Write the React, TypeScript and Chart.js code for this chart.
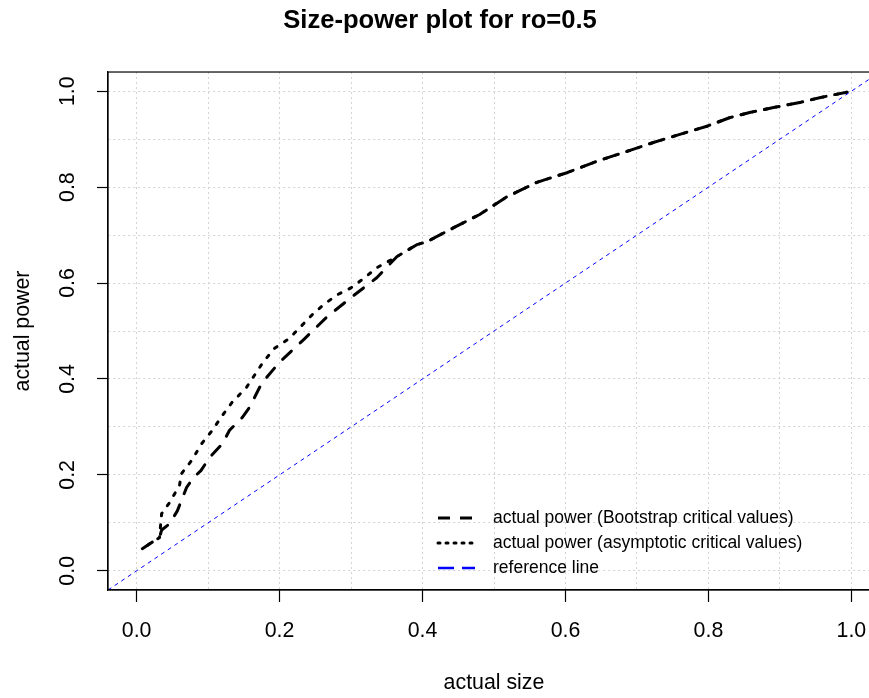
import React, { useEffect, useRef } from "react";
import { Chart, registerables } from "chart.js";

Chart.register(...registerables);

// ---- data ----
const titleText = "Size-power plot for ro=0.5";
const xAxisTitle = "actual size";
const yAxisTitle = "actual power";

const sizeBootstrap = [
  0.008, 0.02, 0.032, 0.035, 0.046, 0.057, 0.07, 0.08, 0.09, 0.102, 0.12, 0.13,
  0.148, 0.158, 0.175, 0.2, 0.233, 0.266, 0.301, 0.336, 0.364, 0.392, 0.406,
  0.443, 0.48, 0.518, 0.56, 0.602, 0.644, 0.681, 0.723, 0.76, 0.798, 0.83,
  0.859, 0.891, 0.929, 0.957, 0.994,
];
const powerBootstrap = [
  0.046, 0.058, 0.069, 0.085, 0.098, 0.125, 0.174, 0.195, 0.209, 0.236, 0.265,
  0.293, 0.32, 0.341, 0.391, 0.435, 0.481, 0.529, 0.571, 0.611, 0.655, 0.68,
  0.686, 0.715, 0.743, 0.78, 0.81, 0.83, 0.854, 0.872, 0.893, 0.91, 0.927,
  0.945, 0.956, 0.966, 0.977, 0.987, 0.998,
];

const sizeAsymptotic = [
  0.008, 0.02, 0.032, 0.035, 0.046, 0.06, 0.063, 0.077, 0.091, 0.106, 0.12,
  0.134, 0.154, 0.177, 0.193, 0.214, 0.245, 0.261, 0.28, 0.3, 0.319, 0.336,
  0.364, 0.392, 0.406, 0.443, 0.48, 0.518, 0.56, 0.602, 0.644, 0.681, 0.723,
  0.76, 0.798, 0.83, 0.859, 0.891, 0.929, 0.957, 0.994,
];
const powerAsymptotic = [
  0.046, 0.058, 0.069, 0.119, 0.142, 0.178, 0.203, 0.23, 0.265, 0.293, 0.324,
  0.352, 0.383, 0.435, 0.464, 0.485, 0.533, 0.554, 0.575, 0.59, 0.611, 0.632,
  0.655, 0.68, 0.686, 0.715, 0.743, 0.78, 0.81, 0.83, 0.854, 0.872, 0.893,
  0.91, 0.927, 0.945, 0.956, 0.966, 0.977, 0.987, 0.998,
];

// reference line y = x across the whole plotting range
const referenceSize = [-0.04, 1.04];
const referencePower = [-0.04, 1.04];

const axisMin = -0.04;
const axisMax = 1.04;
const tickLabels = [0, 0.2, 0.4, 0.6, 0.8, 1.0];

const seriesLabels = [
  "actual power (Bootstrap critical values)",
  "actual power (asymptotic critical values)",
  "reference line",
];

// ---- styling ----
const FONT = '"Liberation Sans", Arial, Helvetica, sans-serif';
const BASE = 21.33;
const DASH_BOOT = [12, 12];
const DASH_ASYM = [3, 9];
const isMajor = (v: number) => Math.round(v * 10) % 2 === 0;

const toPoints = (xs: number[], ys: number[]) =>
  xs.map((x, i) => ({ x, y: ys[i] }));

// index where the asymptotic curve joins the bootstrap curve (identical tails)
function mergeIndices() {
  let ib = sizeBootstrap.length - 1;
  let ia = sizeAsymptotic.length - 1;
  while (
    ib > 0 &&
    ia > 0 &&
    sizeBootstrap[ib - 1] === sizeAsymptotic[ia - 1] &&
    powerBootstrap[ib - 1] === powerAsymptotic[ia - 1]
  ) {
    ib--;
    ia--;
  }
  return { ib, ia };
}

function pathLength(chart: any, xs: number[], ys: number[], n: number) {
  const sx = chart.scales.x;
  const sy = chart.scales.y;
  let s = 0;
  for (let i = 1; i <= n; i++) {
    const dx = sx.getPixelForValue(xs[i]) - sx.getPixelForValue(xs[i - 1]);
    const dy = sy.getPixelForValue(ys[i]) - sy.getPixelForValue(ys[i - 1]);
    s += Math.hypot(dx, dy);
  }
  return s;
}

// align the dots of the asymptotic curve with the dashes of the bootstrap curve
function asymDashOffset(ctx: any) {
  const chart = ctx.chart;
  if (!chart || !chart.scales || !chart.scales.x || !chart.scales.y) return 0;
  const { ib, ia } = mergeIndices();
  const lb = pathLength(chart, sizeBootstrap, powerBootstrap, ib);
  const la = pathLength(chart, sizeAsymptotic, powerAsymptotic, ia);
  const p = DASH_ASYM[0] + DASH_ASYM[1];
  return (((lb - la) % p) + p) % p;
}

const legendStyles = [
  { color: "#000000", width: 3, dash: [12, 10], cap: "butt" },
  { color: "#000000", width: 3, dash: [2, 6], cap: "round" },
  { color: "#0000ff", width: 2.5, dash: [16, 8], cap: "butt" },
];

const framePlugin = {
  id: "frame",
  afterDatasetsDraw(chart: any) {
    const { ctx, chartArea } = chart;
    ctx.save();
    ctx.strokeStyle = "#000";
    ctx.lineWidth = 1.2;
    ctx.setLineDash([]);
    ctx.strokeRect(
      chartArea.left,
      chartArea.top,
      chartArea.right - chartArea.left,
      chartArea.bottom - chartArea.top
    );
    ctx.restore();
  },
};

const yTickLabelPlugin = {
  id: "yTickLabels",
  afterDraw(chart: any) {
    const ys = chart.scales.y;
    const ctx = chart.ctx;
    ctx.save();
    ctx.font = `${BASE}px ${FONT}`;
    ctx.fillStyle = "#000";
    ctx.textAlign = "center";
    ctx.textBaseline = "middle";
    for (const v of tickLabels) {
      const py = ys.getPixelForValue(v);
      ctx.save();
      ctx.translate(ys.right - 40, py);
      ctx.rotate(-Math.PI / 2);
      ctx.fillText(v.toFixed(1), 0, 0);
      ctx.restore();
    }
    ctx.restore();
  },
};

const legendPlugin = {
  id: "innerLegend",
  afterDraw(chart: any) {
    const ctx = chart.ctx;
    const x0 = 438;
    const x1 = 475;
    const tx = 493;
    const y0 = 518;
    const step = 25;
    ctx.save();
    ctx.font = `17.5px ${FONT}`;
    ctx.textAlign = "left";
    ctx.textBaseline = "middle";
    seriesLabels.forEach((label, i) => {
      const y = y0 + i * step;
      const st = legendStyles[i];
      ctx.save();
      ctx.strokeStyle = st.color;
      ctx.lineWidth = st.width;
      ctx.lineCap = st.cap;
      ctx.setLineDash(st.dash);
      ctx.beginPath();
      ctx.moveTo(x0, y);
      ctx.lineTo(x1, y);
      ctx.stroke();
      ctx.restore();
      ctx.fillStyle = "#000";
      ctx.fillText(label, tx, y);
    });
    ctx.restore();
  },
};

export default function App() {
  const ref = useRef<HTMLCanvasElement | null>(null);

  useEffect(() => {
    if (!ref.current) return;
    const gridCommon = {
      color: "#d3d3d3",
      lineWidth: 1,
      tickColor: (c: any) =>
        c.tick && isMajor(c.tick.value) ? "#000000" : "rgba(0,0,0,0)",
      tickWidth: 1.2,
      tickBorderDash: [],
      drawTicks: true,
    };
    const chart = new Chart(ref.current, {
      type: "line",
      data: {
        datasets: [
          {
            label: seriesLabels[2],
            data: toPoints(referenceSize, referencePower),
            borderColor: "#0000ff",
            borderWidth: 1,
            borderDash: [4, 4],
            pointRadius: 0,
            fill: false,
            order: 0,
          },
          {
            label: seriesLabels[1],
            data: toPoints(sizeAsymptotic, powerAsymptotic),
            borderColor: "#000000",
            borderWidth: 3,
            borderDash: DASH_ASYM,
            borderDashOffset: asymDashOffset,
            borderCapStyle: "round",
            borderJoinStyle: "round",
            pointRadius: 0,
            fill: false,
            order: 1,
          },
          {
            label: seriesLabels[0],
            data: toPoints(sizeBootstrap, powerBootstrap),
            borderColor: "#000000",
            borderWidth: 3,
            borderDash: DASH_BOOT,
            borderCapStyle: "round",
            borderJoinStyle: "round",
            pointRadius: 0,
            fill: false,
            order: 2,
          },
        ],
      },
      options: {
        responsive: false,
        animation: false,
        events: [],
        layout: { padding: { top: 0, right: 108, bottom: 0, left: 0 } },
        plugins: {
          legend: { display: false },
          tooltip: { enabled: false },
          title: {
            display: true,
            text: titleText,
            color: "#000",
            font: { family: FONT, size: 25.6, weight: "bold", lineHeight: 1.2 },
            padding: { top: 5.6, bottom: 35.7 },
          },
        },
        scales: {
          x: {
            type: "linear",
            position: "bottom",
            min: axisMin,
            max: axisMax,
            afterFit: (s: any) => {
              s.height = 108;
            },
            ticks: {
              stepSize: 0.1,
              includeBounds: false,
              autoSkip: false,
              maxRotation: 0,
              minRotation: 0,
              padding: 16,
              color: "#000",
              font: { family: FONT, size: BASE, lineHeight: 1.2 },
              callback: (v: any) =>
                isMajor(Number(v)) ? Number(v).toFixed(1) : "",
            },
            grid: { ...gridCommon, tickLength: 12 },
            border: { display: true, color: "#000", width: 1.2, dash: [2, 3] },
            title: {
              display: true,
              text: xAxisTitle,
              color: "#000",
              font: { family: FONT, size: BASE, lineHeight: 1.2 },
              padding: { top: 0, bottom: 2.2 },
            },
          },
          y: {
            type: "linear",
            position: "left",
            min: axisMin,
            max: axisMax,
            afterFit: (s: any) => {
              s.width = 108;
            },
            ticks: {
              stepSize: 0.1,
              includeBounds: false,
              autoSkip: false,
              display: false,
            },
            grid: { ...gridCommon, tickLength: 11 },
            border: { display: true, color: "#000", width: 1.2, dash: [2, 3] },
            title: {
              display: true,
              text: yAxisTitle,
              color: "#000",
              font: { family: FONT, size: BASE, lineHeight: 1.2 },
              padding: { top: 10, bottom: 0 },
            },
          },
        },
      },
      plugins: [framePlugin, yTickLabelPlugin, legendPlugin],
    } as any);
    return () => chart.destroy();
  }, []);

  return (
    <div
      style={{
        position: "fixed",
        left: 0,
        top: 0,
        width: 869,
        height: 698,
        overflow: "hidden",
        background: "#ffffff",
      }}
    >
      <canvas
        ref={ref}
        width={988}
        height={698}
        style={{ display: "block", width: 988, height: 698 }}
      />
    </div>
  );
}
